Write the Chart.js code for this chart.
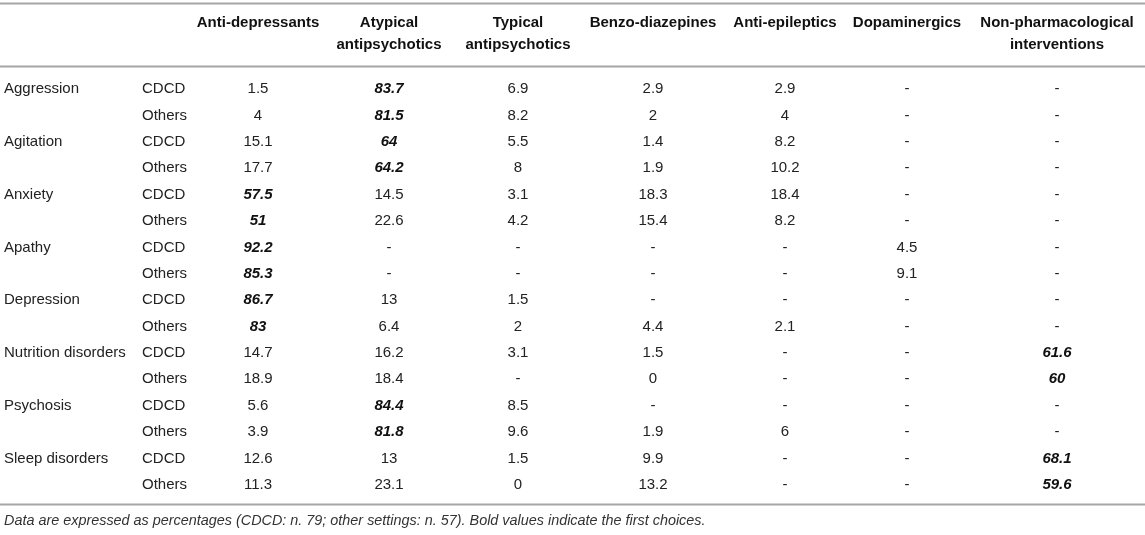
<!DOCTYPE html>
<html>
<head>
<meta charset="utf-8">
<script src="https://cdn.jsdelivr.net/npm/chart.js@4.4.1/dist/chart.umd.min.js"></script>
<style>
    html, body { margin: 0; padding: 0; background: #fff; }
    #chart-container { position: relative; width: 1145px; height: 535px; }
</style>
</head>
<body>
<div id="chart-container"><canvas id="tableChart"></canvas></div>
<script>
// --- data ---
const groups = ['Aggression', 'Agitation', 'Anxiety', 'Apathy', 'Depression', 'Nutrition disorders', 'Psychosis', 'Sleep disorders'];
const settings = ['CDCD', 'Others'];
const treatments = ['Anti-depressants', 'Atypical antipsychotics', 'Typical antipsychotics', 'Benzo-diazepines',
    'Anti-epileptics', 'Dopaminergics', 'Non-pharmacological interventions'];
// how each header wraps
const headerLines = [
    ['Anti-depressants'],
    ['Atypical', 'antipsychotics'],
    ['Typical', 'antipsychotics'],
    ['Benzo-diazepines'],
    ['Anti-epileptics'],
    ['Dopaminergics'],
    ['Non-pharmacological', 'interventions']
];

// rows go group by group, CDCD then Others; null = "-"
const antiDepressants        = [1.5, 4, 15.1, 17.7, 57.5, 51, 92.2, 85.3, 86.7, 83, 14.7, 18.9, 5.6, 3.9, 12.6, 11.3];
const atypicalAntipsychotics = [83.7, 81.5, 64, 64.2, 14.5, 22.6, null, null, 13, 6.4, 16.2, 18.4, 84.4, 81.8, 13, 23.1];
const typicalAntipsychotics  = [6.9, 8.2, 5.5, 8, 3.1, 4.2, null, null, 1.5, 2, 3.1, null, 8.5, 9.6, 1.5, 0];
const benzodiazepines        = [2.9, 2, 1.4, 1.9, 18.3, 15.4, null, null, null, 4.4, 1.5, 0, null, 1.9, 9.9, 13.2];
const antiEpileptics         = [2.9, 4, 8.2, 10.2, 18.4, 8.2, null, null, null, 2.1, null, null, null, 6, null, null];
const dopaminergics          = [null, null, null, null, null, null, 4.5, 9.1, null, null, null, null, null, null, null, null];
const nonPharmacological     = [null, null, null, null, null, null, null, null, null, null, 61.6, 60, null, null, 68.1, 59.6];

const footnote = 'Data are expressed as percentages (CDCD: n. 79; other settings: n. 57). Bold values indicate the first choices.';

// --- layout (scale units: x = page px, y = row index) ---
const colCentres = [258, 389, 518, 653, 785, 907, 1057];
const groupX = 4;
const settingX = 142;
const headerRowY = [-2.51, -1.68];
const ruleY = [-3.25, -0.88, 15.74];
const footnoteY = 16.36;

const series = [antiDepressants, atypicalAntipsychotics, typicalAntipsychotics, benzodiazepines,
    antiEpileptics, dopaminergics, nonPharmacological];
const rowCount = groups.length * settings.length;

// first choice = highest value in the row
const rowMax = [];
for (let i = 0; i < rowCount; i++) {
    let m = -Infinity;
    series.forEach(s => { if (s[i] !== null && s[i] > m) m = s[i]; });
    rowMax.push(m);
}

const FONT = "'Liberation Sans', Arial, sans-serif";
const TEXT_COLOR = '#222';

const tableTextPlugin = {
    id: 'tableText',
    afterDraw(chart) {
        const ctx = chart.ctx;
        const xs = chart.scales.x;
        const ys = chart.scales.y;
        ctx.save();

        // horizontal rules
        ctx.strokeStyle = '#a6a6a6';
        ctx.lineWidth = 1.8;
        ruleY.forEach(r => {
            const py = Math.round(ys.getPixelForValue(r)) + 0.5;
            ctx.beginPath();
            ctx.moveTo(xs.getPixelForValue(0), py);
            ctx.lineTo(xs.getPixelForValue(1145), py);
            ctx.stroke();
        });

        ctx.textBaseline = 'middle';

        // header
        ctx.fillStyle = '#111';
        ctx.font = 'bold 15px ' + FONT;
        ctx.textAlign = 'center';
        headerLines.forEach((lines, j) => {
            lines.forEach((txt, k) => {
                ctx.fillText(txt, xs.getPixelForValue(colCentres[j]), ys.getPixelForValue(headerRowY[k]));
            });
        });

        // row labels
        ctx.fillStyle = TEXT_COLOR;
        ctx.font = '15px ' + FONT;
        ctx.textAlign = 'left';
        for (let i = 0; i < rowCount; i++) {
            const py = ys.getPixelForValue(i);
            if (i % settings.length === 0) {
                ctx.fillText(groups[i / settings.length], xs.getPixelForValue(groupX), py);
            }
            ctx.fillText(settings[i % settings.length], xs.getPixelForValue(settingX), py);
        }

        // cells
        ctx.textAlign = 'center';
        chart.data.datasets.forEach((ds, j) => {
            const meta = chart.getDatasetMeta(j);
            meta.data.forEach((pt, i) => {
                const v = series[j][i];
                if (v === null) {
                    ctx.font = '15px ' + FONT;
                    ctx.fillText('-', pt.x, pt.y);
                } else if (v === rowMax[i]) {
                    ctx.font = 'italic bold 15px ' + FONT;
                    ctx.fillStyle = '#111';
                    ctx.fillText(String(v), pt.x, pt.y);
                    ctx.fillStyle = TEXT_COLOR;
                } else {
                    ctx.font = '15px ' + FONT;
                    ctx.fillText(String(v), pt.x, pt.y);
                }
            });
        });

        // footnote
        ctx.font = 'italic 14.4px ' + FONT;
        ctx.textAlign = 'left';
        ctx.fillStyle = '#333';
        ctx.fillText(footnote, xs.getPixelForValue(groupX), ys.getPixelForValue(footnoteY));

        ctx.restore();
    }
};

const ctx = document.getElementById('tableChart').getContext('2d');

new Chart(ctx, {
    type: 'scatter',
    data: {
        datasets: treatments.map((name, j) => ({
            label: name,
            data: series[j].map((v, i) => ({ x: colCentres[j], y: i })),
            pointRadius: 0,
            showLine: false
        }))
    },
    options: {
        responsive: true,
        maintainAspectRatio: false,
        animation: false,
        events: [],
        layout: { padding: { top: 76, bottom: 37, left: 0, right: 0 } },
        plugins: {
            legend: { display: false },
            tooltip: { enabled: false }
        },
        scales: {
            x: { type: 'linear', display: false, min: 0, max: 1145 },
            y: { type: 'linear', display: false, min: -0.5, max: 15.5, reverse: true }
        }
    },
    plugins: [tableTextPlugin]
});
</script>
</body>
</html>
